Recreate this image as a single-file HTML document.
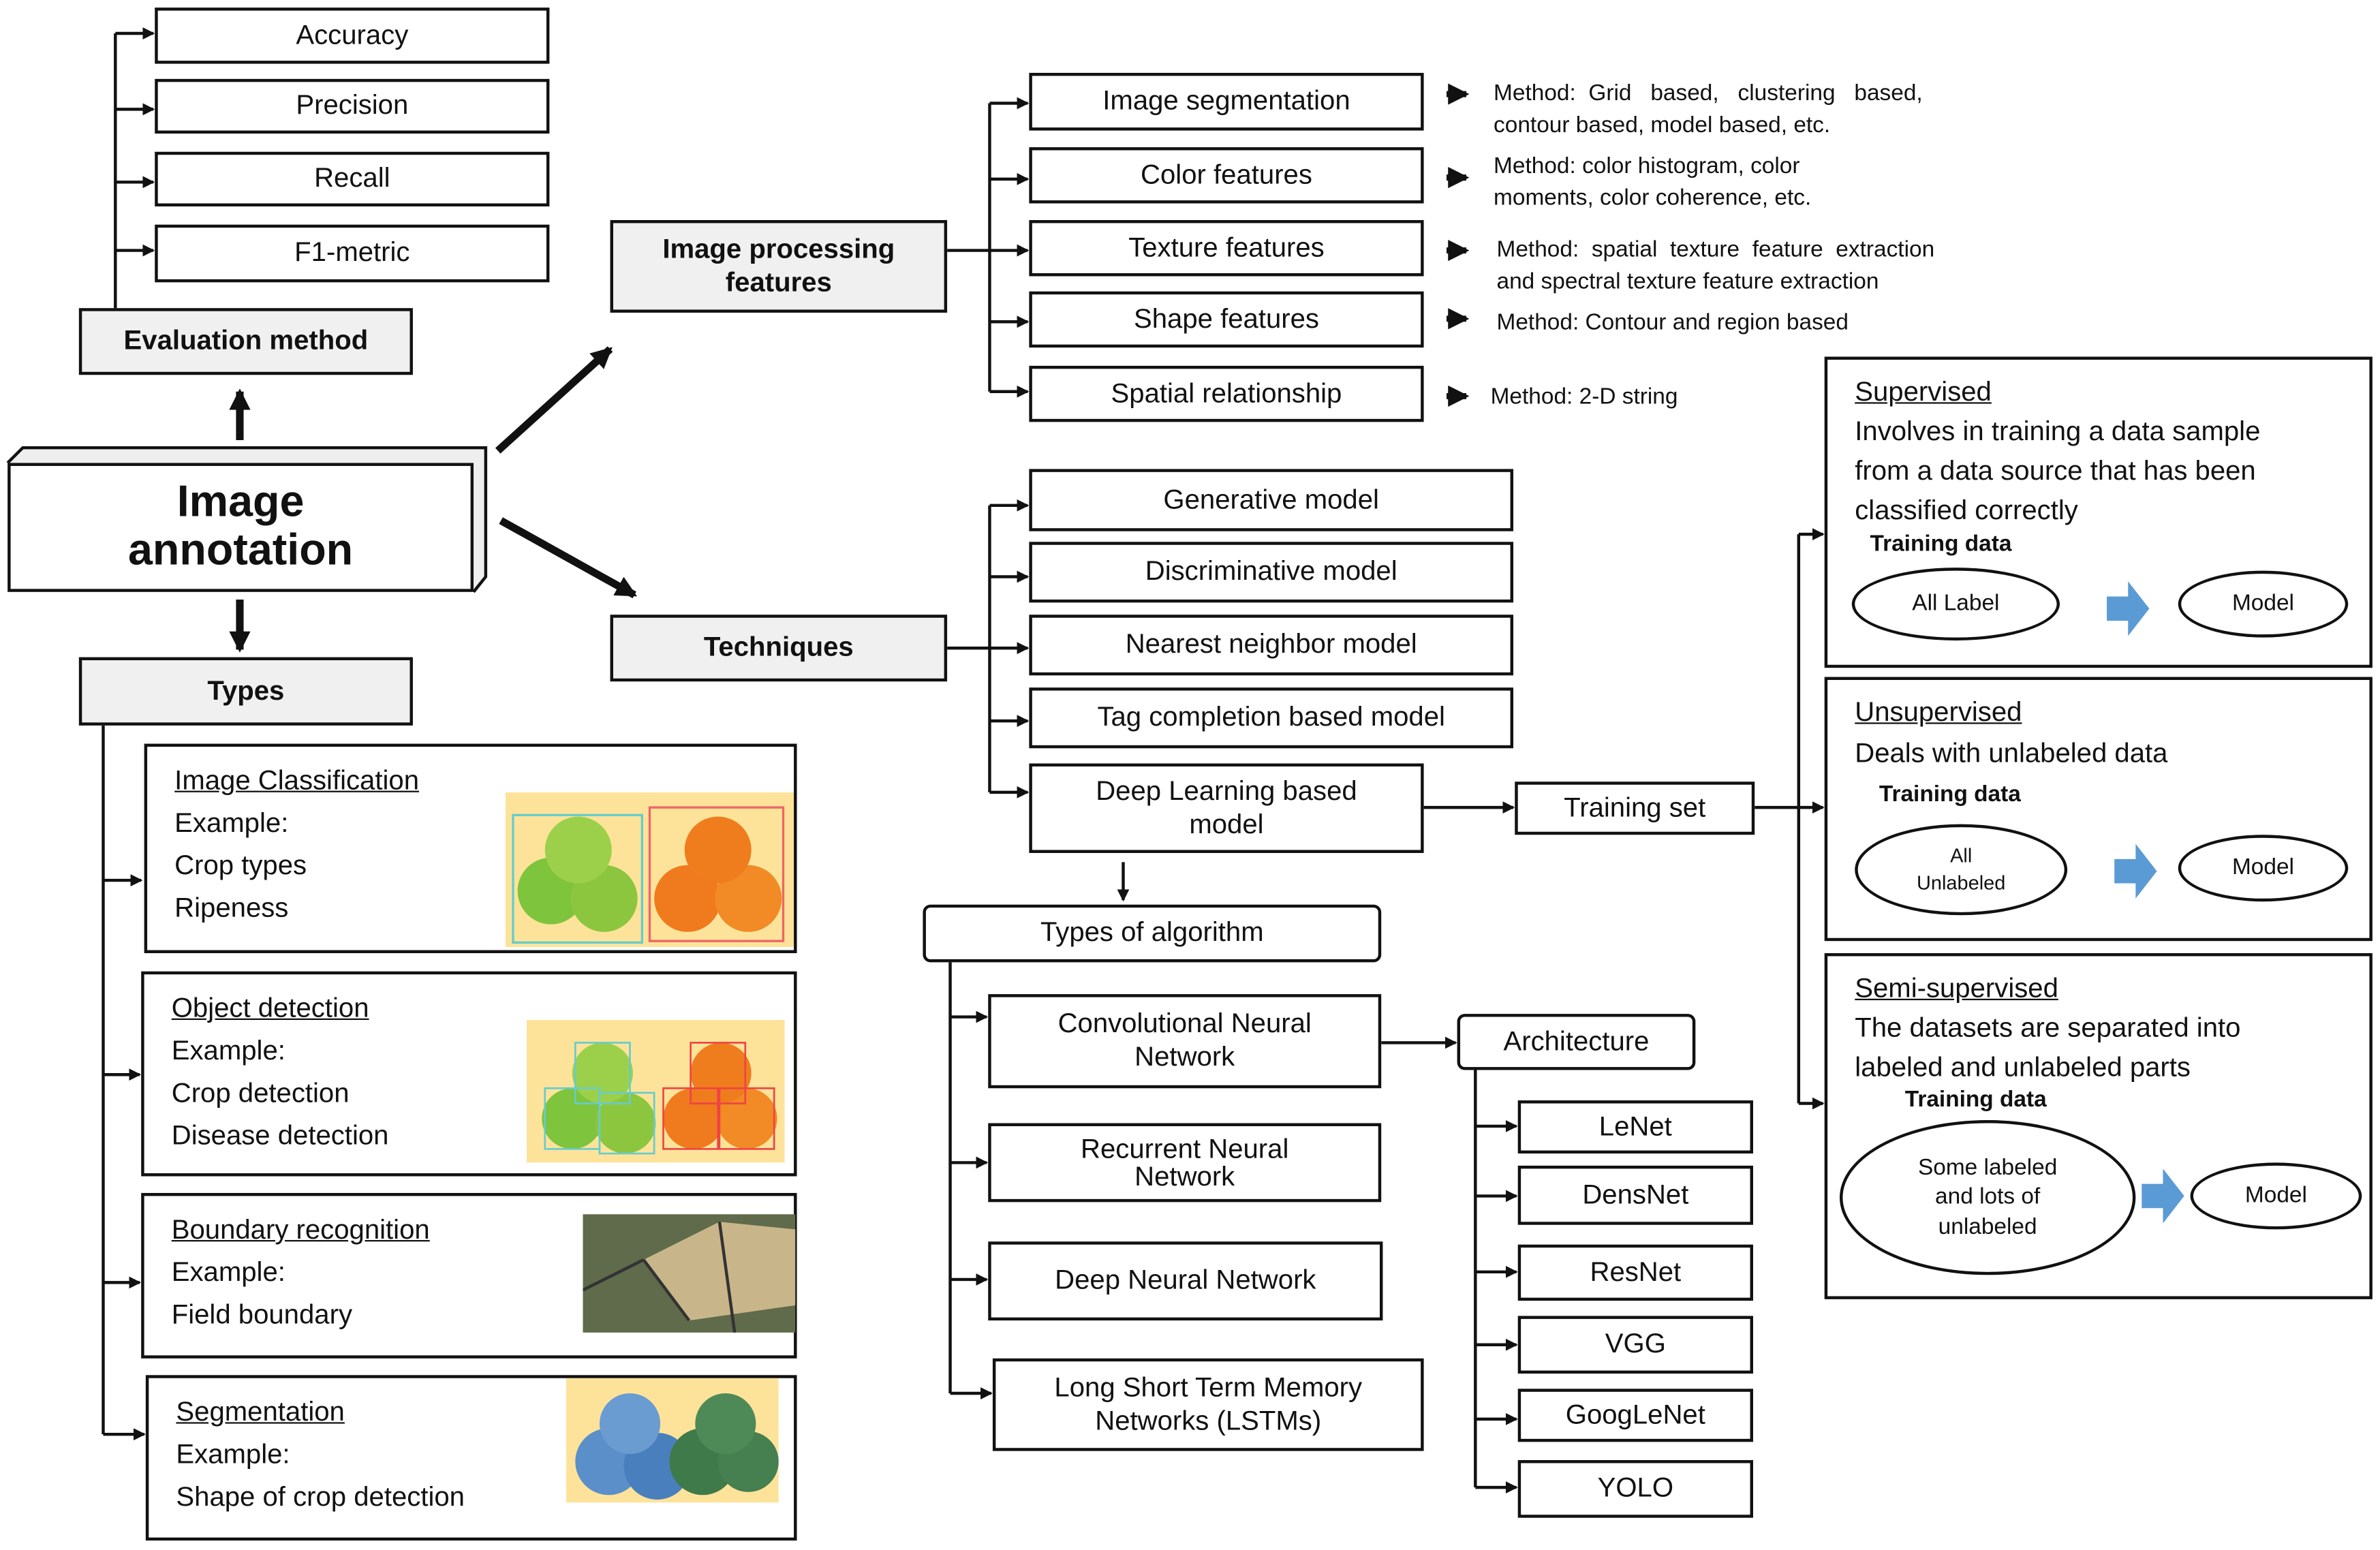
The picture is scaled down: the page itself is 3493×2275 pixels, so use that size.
<!DOCTYPE html>
<html><head><meta charset="utf-8"><style>
html,body{margin:0;padding:0;background:#fff;}
#root{position:relative;width:1568px;height:1021px;transform:scale(2.2277);transform-origin:0 0;font-family:"Liberation Sans",sans-serif;color:#111;overflow:hidden;}
.b{position:absolute;border:2px solid #111;background:#fff;box-sizing:border-box;display:flex;align-items:center;justify-content:center;text-align:center;font-size:18px;line-height:1.2;}
.g{background:#f0f0f0;font-weight:bold;}
.r{border-radius:5px;}
.t{position:absolute;font-size:15px;line-height:1.4;white-space:nowrap;}
.p{position:absolute;border:2px solid #111;box-sizing:border-box;background:#fff;font-size:18px;line-height:28px;padding:8px 18px;white-space:nowrap;}
.p u{display:block;}
.e{position:absolute;border:2px solid #111;border-radius:50%;box-sizing:border-box;display:flex;align-items:center;justify-content:center;text-align:center;font-size:15px;line-height:1.3;}
svg{position:absolute;left:0;top:0;}
</style></head><body><div id="root">
<svg width="1568" height="1021" viewBox="0 0 1568 1021">
<defs><marker id="a" markerWidth="8" markerHeight="8" refX="7" refY="4" orient="auto" markerUnits="userSpaceOnUse"><path d="M0,0 L8,4 L0,8z" fill="#111"/></marker>
<marker id="A" markerWidth="14" markerHeight="14" refX="12" refY="7" orient="auto" markerUnits="userSpaceOnUse"><path d="M0,0 L14,7 L0,14z" fill="#111"/></marker></defs>
<g stroke="#111" stroke-width="2" fill="none">
<path d="M76,205V22"/>
<path d="M76,22H101" marker-end="url(#a)"/><path d="M76,72H101" marker-end="url(#a)"/><path d="M76,120H101" marker-end="url(#a)"/><path d="M76,165H101" marker-end="url(#a)"/>
<path d="M68,478V945"/>
<path d="M68,580H93" marker-end="url(#a)"/><path d="M68,708H92" marker-end="url(#a)"/><path d="M68,845H92" marker-end="url(#a)"/><path d="M68,945H95" marker-end="url(#a)"/>
<path d="M624,165H652M652,68V258"/>
<path d="M652,68H677" marker-end="url(#a)"/><path d="M652,118H677" marker-end="url(#a)"/><path d="M652,165H677" marker-end="url(#a)"/><path d="M652,212H677" marker-end="url(#a)"/><path d="M652,258H677" marker-end="url(#a)"/>
<path d="M624,427H652M652,333V522"/>
<path d="M652,333H677" marker-end="url(#a)"/><path d="M652,380H677" marker-end="url(#a)"/><path d="M652,427H677" marker-end="url(#a)"/><path d="M652,475H677" marker-end="url(#a)"/><path d="M652,522H677" marker-end="url(#a)"/>
<path d="M938,532H997" marker-end="url(#a)"/>
<path d="M1156,532H1185M1185,352V727"/>
<path d="M1185,352H1201" marker-end="url(#a)"/><path d="M1185,532H1201" marker-end="url(#a)"/><path d="M1185,727H1201" marker-end="url(#a)"/>
<path d="M740,568V593" marker-end="url(#a)"/>
<path d="M626,634V918"/>
<path d="M626,670H650" marker-end="url(#a)"/><path d="M626,766H650" marker-end="url(#a)"/><path d="M626,843H650" marker-end="url(#a)"/><path d="M626,918H653" marker-end="url(#a)"/>
<path d="M910,687H959" marker-end="url(#a)"/>
<path d="M972,705V980"/>
<path d="M972,742H999" marker-end="url(#a)"/><path d="M972,788H999" marker-end="url(#a)"/><path d="M972,838H999" marker-end="url(#a)"/><path d="M972,886H999" marker-end="url(#a)"/><path d="M972,935H999" marker-end="url(#a)"/><path d="M972,980H999" marker-end="url(#a)"/>
</g>
<g stroke="#111" stroke-width="4" fill="none">
<path d="M953,62H966" marker-end="url(#A)"/><path d="M953,117H966" marker-end="url(#A)"/><path d="M953,165H966" marker-end="url(#A)"/><path d="M953,210H966" marker-end="url(#A)"/><path d="M953,261H966" marker-end="url(#A)"/>
</g>
<g stroke="#111" stroke-width="5" fill="none">
<path d="M328,297L402,230" marker-end="url(#A)"/><path d="M330,343L418,392" marker-end="url(#A)"/>
<path d="M158,290V258" marker-end="url(#A)"/><path d="M158,395V428" marker-end="url(#A)"/>
</g>
<path d="M5,305L15,295H320L320,380L312,390" fill="#eee" stroke="#111" stroke-width="2"/>
</svg>
<div class="b" style="left:5px;top:305px;width:307px;height:85px;font-size:29px;font-weight:bold;line-height:1.1">Image<br>annotation</div>
<div class="b" style="left:102px;top:5px;width:260px;height:37px">Accuracy</div>
<div class="b" style="left:102px;top:52px;width:260px;height:36px">Precision</div>
<div class="b" style="left:102px;top:100px;width:260px;height:36px">Recall</div>
<div class="b" style="left:102px;top:148px;width:260px;height:38px">F1-metric</div>
<div class="b g" style="left:52px;top:203px;width:220px;height:44px">Evaluation method</div>
<div class="b g" style="left:52px;top:433px;width:220px;height:45px">Types</div>
<div class="p" style="left:95px;top:490px;width:430px;height:138px"><u>Image Classification</u>Example:<br>Crop types<br>Ripeness</div>
<div class="p" style="left:93px;top:640px;width:432px;height:135px"><u>Object detection</u>Example:<br>Crop detection<br>Disease detection</div>
<div class="p" style="left:93px;top:786px;width:432px;height:109px"><u>Boundary recognition</u>Example:<br>Field boundary</div>
<div class="p" style="left:96px;top:906px;width:429px;height:109px"><u>Segmentation</u>Example:<br>Shape of crop detection</div>
<svg style="left:333px;top:522px" width="190" height="102"><rect width="190" height="102" fill="#fde39a"/><rect x="5" y="15" width="85" height="84" fill="none" stroke="#6cc" stroke-width="1.5"/><rect x="95" y="10" width="88" height="88" fill="none" stroke="#e66" stroke-width="1.5"/><circle cx="30" cy="65" r="22" fill="#7ec43c"/><circle cx="65" cy="70" r="22" fill="#8cc63f"/><circle cx="48" cy="38" r="22" fill="#9dd04a"/><circle cx="120" cy="70" r="22" fill="#f07a1e"/><circle cx="160" cy="70" r="22" fill="#f28a25"/><circle cx="140" cy="38" r="22" fill="#ef7d1d"/></svg>
<svg style="left:347px;top:672px" width="170" height="94"><rect width="170" height="94" fill="#fde39a"/><circle cx="30" cy="65" r="20" fill="#7ec43c"/><circle cx="65" cy="68" r="20" fill="#8cc63f"/><circle cx="50" cy="35" r="20" fill="#9dd04a"/><circle cx="110" cy="65" r="20" fill="#f07a1e"/><circle cx="145" cy="65" r="20" fill="#f28a25"/><circle cx="128" cy="35" r="20" fill="#ef7d1d"/><g fill="none" stroke="#6cc" stroke-width="1.2"><rect x="12" y="45" width="36" height="40"/><rect x="48" y="48" width="36" height="40"/><rect x="32" y="15" width="36" height="40"/></g><g fill="none" stroke="#e44" stroke-width="1.2"><rect x="90" y="45" width="36" height="40"/><rect x="127" y="45" width="36" height="40"/><rect x="108" y="15" width="36" height="40"/></g></svg>
<svg style="left:384px;top:800px" width="140" height="78"><rect width="140" height="78" fill="#5f6b4a"/><path d="M40,30L90,5L140,10V60L70,70z" fill="#c8b68a"/><path d="M0,50L40,30M90,5L100,78M40,30L70,70" stroke="#333" stroke-width="2"/></svg>
<svg style="left:373px;top:908px" width="140" height="82"><rect width="140" height="82" fill="#fde39a"/><circle cx="28" cy="55" r="22" fill="#5b8fc9"/><circle cx="60" cy="58" r="22" fill="#4a7fbd"/><circle cx="42" cy="30" r="20" fill="#6a9bd1"/><circle cx="90" cy="55" r="22" fill="#3f7a4a"/><circle cx="120" cy="55" r="20" fill="#467f50"/><circle cx="105" cy="30" r="20" fill="#4e8a57"/></svg>
<div class="b g" style="left:402px;top:145px;width:222px;height:61px">Image processing<br>features</div>
<div class="b" style="left:678px;top:48px;width:260px;height:38px">Image segmentation</div>
<div class="b" style="left:678px;top:97px;width:260px;height:37px">Color features</div>
<div class="b" style="left:678px;top:145px;width:260px;height:37px">Texture features</div>
<div class="b" style="left:678px;top:192px;width:260px;height:37px">Shape features</div>
<div class="b" style="left:678px;top:241px;width:260px;height:37px">Spatial relationship</div>
<div class="t" style="left:984px;top:51px">Method: &nbsp;Grid &nbsp;&nbsp;based, &nbsp;&nbsp;clustering &nbsp;&nbsp;based,<br>contour based, model based, etc.</div>
<div class="t" style="left:984px;top:99px">Method: color histogram, color<br>moments, color coherence, etc.</div>
<div class="t" style="left:986px;top:154px">Method: &nbsp;spatial &nbsp;texture &nbsp;feature &nbsp;extraction<br>and spectral texture feature extraction</div>
<div class="t" style="left:986px;top:202px">Method: Contour and region based</div>
<div class="t" style="left:982px;top:251px">Method: 2-D string</div>
<div class="b g" style="left:402px;top:405px;width:222px;height:44px">Techniques</div>
<div class="b" style="left:678px;top:309px;width:319px;height:41px">Generative model</div>
<div class="b" style="left:678px;top:357px;width:319px;height:40px">Discriminative model</div>
<div class="b" style="left:678px;top:405px;width:319px;height:40px">Nearest neighbor model</div>
<div class="b" style="left:678px;top:453px;width:319px;height:40px">Tag completion based model</div>
<div class="b" style="left:678px;top:503px;width:260px;height:59px">Deep Learning based<br>model</div>
<div class="b" style="left:998px;top:515px;width:158px;height:35px">Training set</div>
<div class="b r" style="left:608px;top:596px;width:302px;height:38px">Types of algorithm</div>
<div class="b" style="left:651px;top:655px;width:259px;height:62px">Convolutional Neural<br>Network</div>
<div class="b" style="left:651px;top:740px;width:259px;height:52px;line-height:1">Recurrent Neural<br>Network</div>
<div class="b" style="left:651px;top:818px;width:260px;height:52px">Deep Neural Network</div>
<div class="b" style="left:654px;top:895px;width:284px;height:61px">Long Short Term Memory<br>Networks (LSTMs)</div>
<div class="b r" style="left:960px;top:668px;width:157px;height:37px">Architecture</div>
<div class="b" style="left:1000px;top:725px;width:155px;height:35px">LeNet</div>
<div class="b" style="left:1000px;top:768px;width:155px;height:39px">DensNet</div>
<div class="b" style="left:1000px;top:820px;width:155px;height:37px">ResNet</div>
<div class="b" style="left:1000px;top:867px;width:155px;height:38px">VGG</div>
<div class="b" style="left:1000px;top:915px;width:155px;height:35px">GoogLeNet</div>
<div class="b" style="left:1000px;top:962px;width:155px;height:38px">YOLO</div>
<div class="p" style="left:1202px;top:235px;width:361px;height:205px;padding:8px 18px;line-height:26px"><u>Supervised</u>Involves in training a data sample<br>from a data source that has been<br>classified correctly</div>
<div class="t" style="left:1232px;top:348px;font-weight:bold;font-size:15px">Training data</div>
<div class="e" style="left:1220px;top:374px;width:137px;height:48px">All Label</div>
<div class="e" style="left:1435px;top:376px;width:112px;height:44px">Model</div>
<div class="p" style="left:1202px;top:446px;width:361px;height:174px;line-height:27px"><u>Unsupervised</u>Deals with unlabeled data</div>
<div class="t" style="left:1238px;top:513px;font-weight:bold">Training data</div>
<div class="e" style="left:1222px;top:543px;width:140px;height:60px;font-size:13px;line-height:1.4">All<br>Unlabeled</div>
<div class="e" style="left:1435px;top:550px;width:112px;height:44px">Model</div>
<div class="p" style="left:1202px;top:628px;width:361px;height:228px;line-height:26px"><u>Semi-supervised</u>The datasets are separated into<br>labeled and unlabeled parts</div>
<div class="t" style="left:1255px;top:714px;font-weight:bold">Training data</div>
<div class="e" style="left:1212px;top:738px;width:195px;height:102px">Some labeled<br>and lots of<br>unlabeled</div>
<div class="e" style="left:1443px;top:766px;width:113px;height:44px">Model</div>
<svg width="1568" height="1021" viewBox="0 0 1568 1021">
<path d="M1388,393h14v-10l14,18l-14,18v-10h-14z" fill="#5b9bd5"/>
<path d="M1393,566h14v-10l14,18l-14,18v-10h-14z" fill="#5b9bd5"/>
<path d="M1411,780h14v-10l14,18l-14,18v-10h-14z" fill="#5b9bd5"/>
</svg>
</div></body></html>
